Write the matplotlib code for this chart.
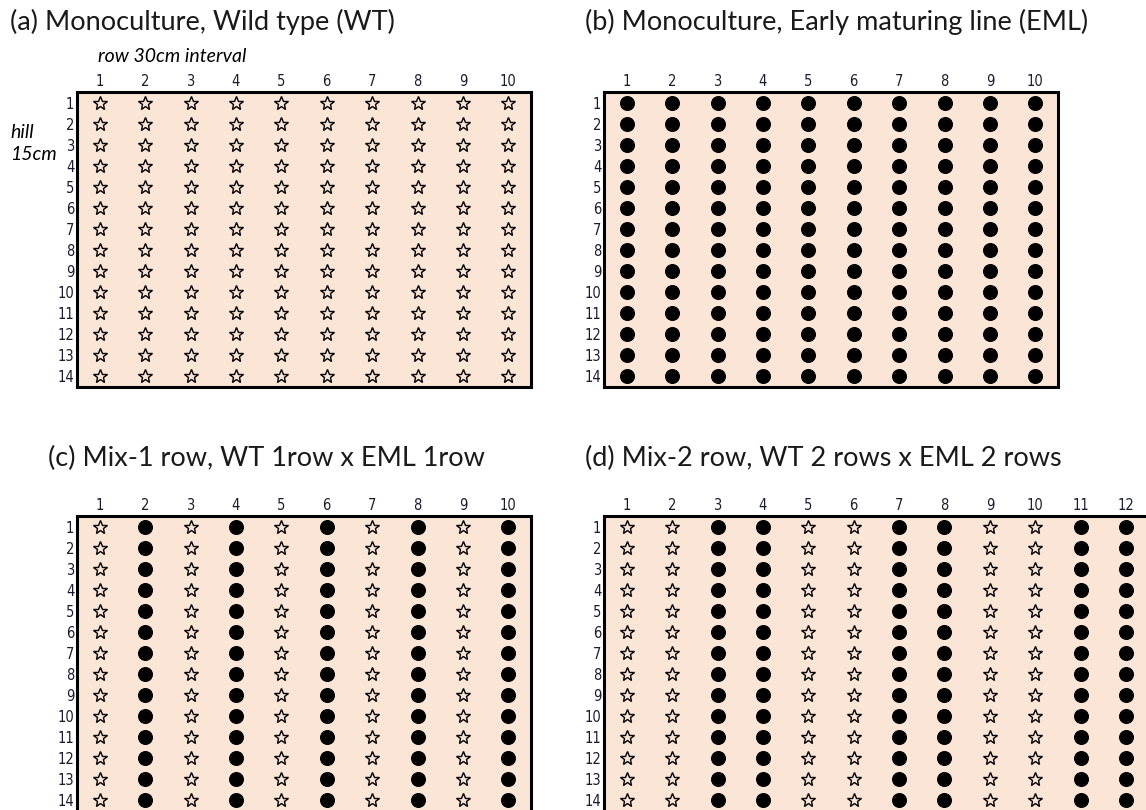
import numpy as np
import matplotlib.pyplot as plt

W, H = 1146, 810
n_hills = 14

titles = ['(a) Monoculture, Wild type (WT)',
          '(b) Monoculture, Early maturing line (EML)',
          '(c) Mix-1 row, WT 1row x EML 1row',
          '(d) Mix-2 row, WT 2 rows x EML 2 rows']

# plant type in each row (column): 'WT' = star, 'EML' = dot
rows_a = ['WT'] * 10
rows_b = ['EML'] * 10
rows_c = ['WT', 'EML'] * 5
rows_d = ['WT', 'WT', 'EML', 'EML'] * 3

bg = '#FBE5D6'
tick_font = ['Liberation Sans Narrow', 'DejaVu Sans']
title_font = ['Lato', 'DejaVu Sans']

fig = plt.figure(figsize=(W / 100, H / 100), dpi=100)

def px_axes(left, top, w, h):
    return fig.add_axes([left / W, 1 - (top + h) / H, w / W, h / H])

col_w = 45.4
panels = [(rows_a, 77, 92, titles[0], 10, 22),
          (rows_b, 604, 92, titles[1], 585, 22),
          (rows_c, 77, 516, titles[2], 48, 458),
          (rows_d, 604, 516, titles[3], 585, 458)]

for rows, left, top, title, tx, ty in panels:
    ncol = len(rows)
    ax = px_axes(left, top, col_w * ncol, 295)
    ax.set_facecolor(bg)
    ax.set_xlim(0.5, ncol + 0.5)
    ax.set_ylim(n_hills + 0.5, 0.5)
    hills = np.arange(1, n_hills + 1)
    for j, kind in enumerate(rows, start=1):
        x = np.full(n_hills, j)
        if kind == 'WT':
            ax.plot(x, hills, ls='none', marker='*', ms=10.5, mfc='none',
                    mec='black', mew=1.0, clip_on=False)
        else:
            ax.plot(x, hills, ls='none', marker='o', ms=9.8, mfc='black',
                    mec='black', clip_on=False)
    ax.xaxis.tick_top()
    ax.set_xticks(np.arange(1, ncol + 1))
    ax.set_xticklabels([str(i) for i in range(1, ncol + 1)],
                       family=tick_font, stretch='condensed', fontsize=10.5,
                       color='#1c1c30')
    ax.set_yticks(hills)
    ax.set_yticklabels([str(i) for i in hills],
                       family=tick_font, stretch='condensed', fontsize=10.5,
                       color='#1c1c30')
    ax.tick_params(length=0, pad=2)
    for s in ax.spines.values():
        s.set_linewidth(2.2)
        s.set_color('black')
    fig.text(tx / W, 1 - ty / H, title, family=title_font, fontsize=19.5,
             va='center', ha='left', color='#1a1a1a')

fig.text(98 / W, 1 - 57 / H, 'row 30cm interval', family=title_font,
         style='italic', fontsize=14, va='center', ha='left')
fig.text(10 / W, 1 - 133 / H, 'hill', family=title_font,
         style='italic', fontsize=14, va='center', ha='left')
fig.text(10 / W, 1 - 155 / H, '15cm', family=title_font,
         style='italic', fontsize=14, va='center', ha='left')

fig.savefig('out.png', dpi=100)
